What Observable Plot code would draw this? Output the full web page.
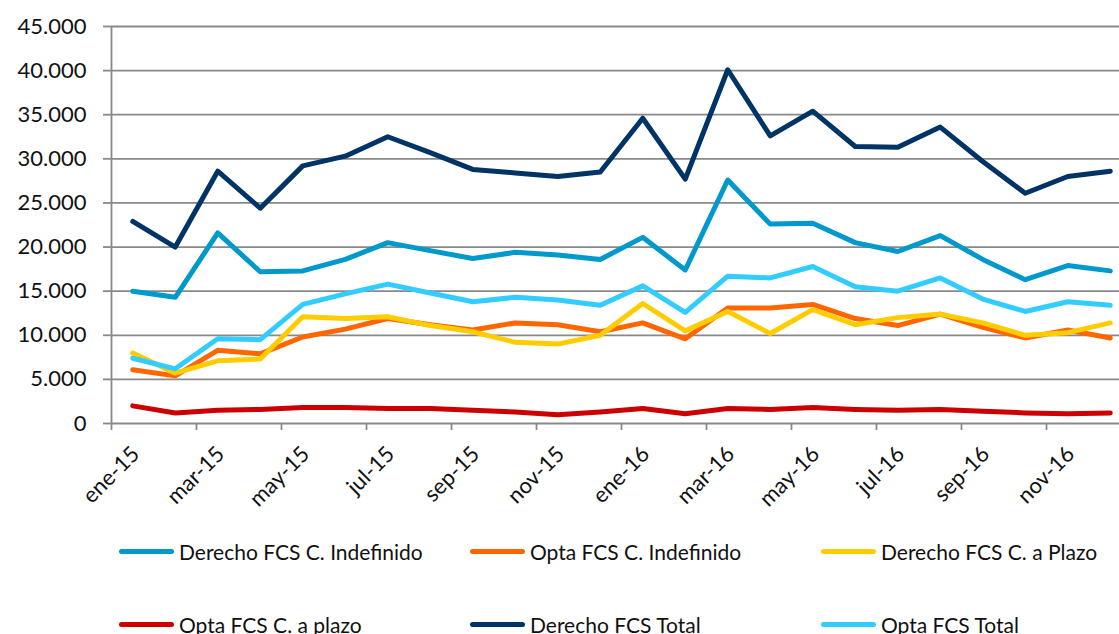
<!DOCTYPE html>
<html>
<head>
<meta charset="utf-8">
<script src="https://cdn.jsdelivr.net/npm/d3@7"></script>
<script src="https://cdn.jsdelivr.net/npm/@observablehq/plot@0.6"></script>
<style>
  html, body { margin: 0; padding: 0; background: #fff; }
  body { width: 1119px; height: 634px; overflow: hidden; position: relative; font-family: Lato, sans-serif; }
  #title { position: absolute; top: -22px; left: 376px; width: 400px; text-align: center;
           font: bold 28px/28px Lato, sans-serif; color: #1b9bd7; white-space: nowrap; }
  #chart { position: absolute; top: 0; left: 0; }
  #legend { position: absolute; top: 536px; left: 119px; display: grid;
            grid-template-columns: 351px 351px 300px; row-gap: 43px; }
  .item { display: flex; align-items: center; height: 30px; font-size: 21px; color: #111; white-space: nowrap; }
  .sw { width: 55px; height: 5px; border-radius: 3px; margin-right: 5px; flex: none; }
</style>
</head>
<body>
<div id="title">(2015-2016)</div>
<div id="chart"></div>
<div id="legend"></div>
<script>
const months = ["ene-15","feb-15","mar-15","abr-15","may-15","jun-15","jul-15","ago-15","sep-15","oct-15","nov-15","dic-15",
                "ene-16","feb-16","mar-16","abr-16","may-16","jun-16","jul-16","ago-16","sep-16","oct-16","nov-16","dic-16"];
const derechoIndefinido = [15000,14300,21600,17200,17300,18600,20500,19600,18700,19400,19100,18600,21100,17400,27600,22600,22700,20500,19500,21300,18600,16300,17900,17300];
const optaIndefinido    = [6100,5400,8300,7900,9800,10700,11900,11200,10600,11400,11200,10400,11400,9600,13100,13100,13500,11900,11100,12400,10900,9700,10600,9700];
const derechoPlazo      = [8000,5700,7100,7300,12100,11900,12100,11100,10400,9200,9000,10000,13600,10500,12700,10200,12900,11200,12000,12400,11400,10000,10300,11400];
const optaPlazo         = [2000,1200,1500,1600,1800,1800,1700,1700,1500,1300,1000,1300,1700,1100,1700,1600,1800,1600,1500,1600,1400,1200,1100,1200];
const derechoTotal      = [22900,20000,28600,24400,29200,30300,32500,30700,28800,28400,28000,28500,34600,27700,40100,32600,35400,31400,31300,33600,29700,26100,28000,28600];
const optaTotal         = [7400,6200,9600,9500,13500,14700,15800,14800,13800,14300,14000,13400,15600,12600,16700,16500,17800,15500,15000,16500,14100,12700,13800,13400];

const seriesNames  = ["Derecho FCS C. Indefinido","Opta FCS C. Indefinido","Derecho FCS C. a Plazo","Opta FCS C. a plazo","Derecho FCS Total","Opta FCS Total"];
const seriesValues = [derechoIndefinido, optaIndefinido, derechoPlazo, optaPlazo, derechoTotal, optaTotal];
const seriesColors = ["#0099cc","#ff6600","#ffcc00","#cc0000","#003366","#33ccff"];

const yTicks = [0,5000,10000,15000,20000,25000,30000,35000,40000,45000];
const labelIdx = months.map((m,i)=>i).filter(i => i % 2 === 0);
const boundaries = labelIdx.map(i => i - 0.5);

const fmt = d => d === 0 ? "0" : d3.format(",")(d).replace(/,/g, ".");
const grid = "#898989";

const lineMarks = seriesValues.map((vals, s) =>
  Plot.lineY(vals.map((v,i)=>({i, v})), {x:"i", y:"v", stroke: seriesColors[s], strokeWidth: 5,
    strokeLinejoin: "round", strokeLinecap: "round"}));

const chart = Plot.plot({
  width: 1119, height: 520,
  marginTop: 26, marginBottom: 97, marginLeft: 111, marginRight: 0,
  style: { fontFamily: "Lato, sans-serif", fontSize: "22px", color: "#111", background: "#fff" },
  x: { type: "linear", domain: [-0.5, 23.5], range: [111, 1131], label: null },
  y: { domain: [0, 45000], label: null },
  marks: [
    Plot.ruleY(yTicks, { stroke: grid, strokeWidth: 1.8 }),
    Plot.ruleX([-0.5], { y1: 0, y2: 45000, stroke: grid, strokeWidth: 1.8 }),
    Plot.axisY({ ticks: yTicks, tickSize: 8, tickPadding: 17, tickFormat: fmt, stroke: grid, strokeWidth: 1.8, fontSize: 22, label: null }),
    Plot.axisX({ ticks: boundaries, tickSize: 7, tickFormat: () => "", stroke: grid, strokeWidth: 1.8, label: null }),
    Plot.axisX({ ticks: labelIdx, tickSize: 0, tickPadding: 27, dx: 3, tickRotate: -45, tickFormat: i => months[i], fontSize: 22, label: null }),
    ...lineMarks
  ]
});
document.getElementById("chart").appendChild(chart);

const legend = document.getElementById("legend");
seriesNames.forEach((n, s) => {
  const it = document.createElement("div");
  it.className = "item";
  const sw = document.createElement("span");
  sw.className = "sw";
  sw.style.background = seriesColors[s];
  it.appendChild(sw);
  it.appendChild(document.createTextNode(n));
  legend.appendChild(it);
});
</script>
</body>
</html>
